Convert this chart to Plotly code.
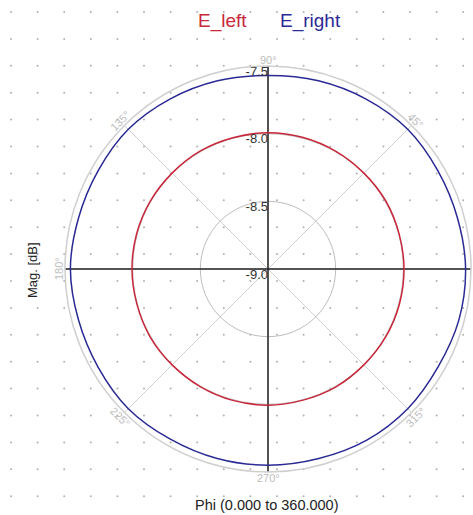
import plotly.graph_objects as go
import numpy as np

# ---- data ----
phi_deg = [0, 15, 30, 45, 60, 75, 90, 105, 120, 135, 150, 165, 180,
           195, 210, 225, 240, 255, 270, 285, 300, 315, 330, 345, 360]
e_left = [-7.995, -7.997, -7.995, -7.998, -7.996, -7.994, -7.993, -7.996, -7.995, -7.998, -7.996, -7.995, -7.995,
          -7.997, -7.995, -7.998, -7.997, -7.995, -7.994, -7.997, -7.995, -7.998, -7.996, -7.995, -7.995]
e_right = [-7.54, -7.55, -7.55, -7.54, -7.55, -7.56, -7.57, -7.56, -7.55, -7.54, -7.55, -7.55, -7.54,
           -7.55, -7.55, -7.54, -7.55, -7.55, -7.55, -7.55, -7.54, -7.54, -7.55, -7.54, -7.54]
radial_ticks = [-9.0, -8.5, -8.0, -7.5]
radial_labels = ["-9.0", "-8.5", "-8.0", "-7.5"]
angle_ticks = [45, 90, 135, 180, 225, 270, 315]
angle_labels = ["45°", "90°", "135°", "180°", "225°", "270°", "315°"]
r_min, r_max = -9.0, -7.5

W, H = 473, 515
RED = "#c8283a"
BLUE = "#2a2a96"

# polar placement (pixels)
CX, CY, RAD = 268, 269, 203
LABEL_RAD = 209

fig = go.Figure()

# background dot grid (decoration)
gx = np.arange(11, W, 26.6)
gy = np.arange(12, H, 26.9)
GX, GY = np.meshgrid(gx, gy)
fig.add_trace(go.Scatter(x=GX.ravel(), y=GY.ravel(), mode="markers",
                         marker=dict(size=2, color="#b0b0b0"),
                         hoverinfo="skip", showlegend=False,
                         xaxis="x", yaxis="y"))

# black cross axes
fig.add_trace(go.Scatterpolar(r=[r_max, r_min, r_max, None, r_max, r_min, r_max],
                              theta=[90, 90, 270, None, 0, 0, 180],
                              mode="lines", line=dict(color="#222222", width=1.5),
                              hoverinfo="skip", showlegend=False))

fig.add_trace(go.Scatterpolar(r=e_left, theta=phi_deg, mode="lines",
                              line=dict(color=RED, width=1.5, shape="spline"),
                              name="E_left", showlegend=False))
fig.add_trace(go.Scatterpolar(r=e_right, theta=phi_deg, mode="lines",
                              line=dict(color=BLUE, width=1.5, shape="spline"),
                              name="E_right", showlegend=False))

# radial tick labels, left of the vertical axis and just below each ring
fig.add_trace(go.Scatterpolar(r=radial_ticks, theta=[90] * len(radial_ticks),
                              mode="text", text=radial_labels,
                              textposition="bottom left",
                              textfont=dict(size=13, color="#333"),
                              hoverinfo="skip", showlegend=False))

dom_x = [(CX - RAD) / W, (CX + RAD) / W]
dom_y = [(H - CY - RAD) / H, (H - CY + RAD) / H]

annotations = [
    dict(text="E_left", x=222, y=21, xref="x", yref="y", showarrow=False,
         font=dict(size=19, color=RED)),
    dict(text="E_right", x=310, y=21, xref="x", yref="y", showarrow=False,
         font=dict(size=19, color=BLUE)),
    dict(text="Mag. [dB]", x=32, y=270, xref="x", yref="y", showarrow=False,
         textangle=-90, font=dict(size=13, color="#222")),
    dict(text="Phi (0.000 to 360.000)", x=267, y=505, xref="x", yref="y",
         showarrow=False, font=dict(size=14.5, color="#222")),
]
# tangential angular tick labels
for a, lab in zip(angle_ticks, angle_labels):
    ang = ((90 - a + 90) % 180) - 90
    annotations.append(dict(
        text=lab, xref="x", yref="y",
        x=CX + LABEL_RAD * np.cos(np.radians(a)),
        y=CY - LABEL_RAD * np.sin(np.radians(a)),
        showarrow=False, textangle=ang,
        font=dict(size=11, color="#bdbdbd")))

fig.update_layout(
    width=W, height=H,
    margin=dict(l=0, r=0, t=0, b=0),
    paper_bgcolor="white", plot_bgcolor="rgba(0,0,0,0)",
    font=dict(family="Liberation Sans, Arial, sans-serif", color="#222"),
    xaxis=dict(range=[0, W], visible=False, domain=[0, 1], fixedrange=True),
    yaxis=dict(range=[H, 0], visible=False, domain=[0, 1], fixedrange=True),
    polar=dict(
        domain=dict(x=dom_x, y=dom_y),
        bgcolor="rgba(0,0,0,0)",
        radialaxis=dict(range=[r_min, r_max], tickvals=radial_ticks,
                        showticklabels=False, angle=90,
                        showline=False, ticks="", gridcolor="#bdbdbd"),
        angularaxis=dict(rotation=0, direction="counterclockwise",
                         tickvals=[0] + angle_ticks, showticklabels=False,
                         ticks="", showline=True, linecolor="#cfcfcf", linewidth=1.5,
                         gridcolor="#cfcfcf"),
    ),
    annotations=annotations,
)

fig.write_html("out.html", config={"displayModeBar": False},
               post_script="document.body.style.margin='0px';")
